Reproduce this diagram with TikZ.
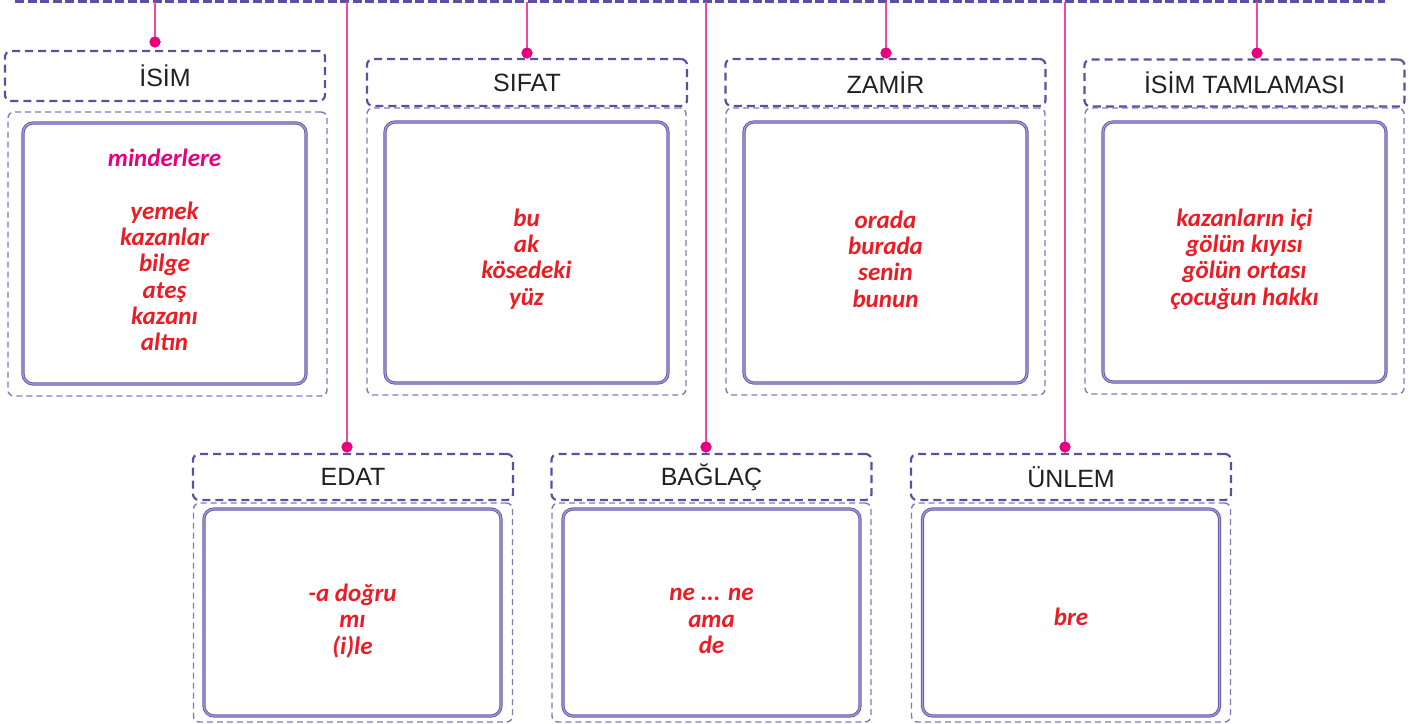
\documentclass[tikz,border=0pt]{standalone}
\usepackage{fontspec}
\setmainfont{Liberation Sans}
\newfontfamily\wordfont{Carlito}
\usepackage{tikz}
\usetikzlibrary{positioning}
\definecolor{headline}{HTML}{5C4F9F}
\definecolor{bodyline}{HTML}{8376BD}
\definecolor{listline}{HTML}{6559A9}
\definecolor{listfill}{HTML}{A99FD6}
\definecolor{headtext}{HTML}{231F20}
\definecolor{stempink}{HTML}{EE4A9F}
\definecolor{dotpink}{HTML}{E6007E}
\definecolor{wordred}{HTML}{ED1C24}
\definecolor{wordmagenta}{HTML}{E5007E}

\begin{document}
\begin{tikzpicture}[
    x=1pt, y=-1pt,
    topline/.style={draw=headline, line width=3pt, dash pattern=on 9pt off 3.5pt},
    headbox/.style={draw=headline, line width=2.2pt, dash pattern=on 8pt off 5pt,
        rounded corners=6pt, minimum width=320pt, minimum height=47pt,
        text=headtext, font=\fontsize{25}{30}\selectfont},
    bodybox/.style={draw=bodyline, line width=1.4pt, dash pattern=on 6pt off 4pt,
        rounded corners=6pt, minimum width=319pt},
    listbox/.style={draw=listline, line width=1pt, double=listfill, double distance=1.2pt,
        rounded corners=10pt},
    words/.style={text=wordred, align=center,
        font=\wordfont\bfseries\itshape\fontsize{25}{26.3}\selectfont},
    stem/.style={draw=stempink, line width=1.8pt},
    dot/.style={circle, fill=dotpink, inner sep=0pt, minimum size=11pt}
]
    \useasboundingbox (0,0) rectangle (1413,723);

    % === TOP LINE ===
    \coordinate (topL) at (15,1.5);
    \coordinate (topR) at (1385,1.5);
    \draw[topline] (topL) -- (topR);

    % === TOP ROW ===
    \node[headbox, minimum height=50pt] (isim) at (165,76) {İSİM};
    \node[bodybox, minimum height=284pt] (isimbody) at (167.5,254) {};
    \node[listbox, minimum width=283pt, minimum height=261pt] (isimlist) at (164.5,253.5) {};
    \node[words] (isimwords) at (164.5,250) {%
        \textcolor{wordmagenta}{minderlere}\\[26.3pt]
        yemek\\ kazanlar\\ bilge\\ ateş\\ kazanı\\ altın};

    \node[headbox] (sifat) at (527,82.5) {SIFAT};
    \node[bodybox, minimum height=287pt] (sifatbody) at (526.5,251.5) {};
    \node[listbox, minimum width=283pt, minimum height=261pt] (sifatlist) at (526.5,252.5) {};
    \node[words] (sifatwords) at (526.5,259) {bu\\ ak\\ kösedeki\\ yüz};

    \node[headbox] (zamir) at (885.5,82.5) {ZAMİR};
    \node[bodybox, minimum height=287pt] (zamirbody) at (885.5,251.5) {};
    \node[listbox, minimum width=283pt, minimum height=261pt] (zamirlist) at (885.5,252.5) {};
    \node[words] (zamirwords) at (885.5,259) {orada\\ burada\\ senin\\ bunun};

    \node[headbox] (tamlama) at (1244.5,83) {İSİM TAMLAMASI};
    \node[bodybox, minimum height=286pt] (tamlamabody) at (1244.5,251) {};
    \node[listbox, minimum width=283pt, minimum height=260pt] (tamlamalist) at (1244.5,252) {};
    \node[words] (tamlamawords) at (1244.5,259) {kazanların içi\\ gölün kıyısı\\ gölün ortası\\ çocuğun hakkı};

    % === BOTTOM ROW ===
    \node[headbox, minimum height=46pt] (edat) at (353,477) {EDAT};
    \node[bodybox, minimum height=219pt] (edatbody) at (353,612.5) {};
    \node[listbox, minimum width=297pt, minimum height=207pt] (edatlist) at (352.5,612.5) {};
    \node[words] (edatwords) at (352.5,621) {-a doğru\\ mı\\ (i)le};

    \node[headbox, minimum height=46pt] (baglac) at (711.5,477) {BAĞLAÇ};
    \node[bodybox, minimum height=219pt] (baglacbody) at (711.5,612.5) {};
    \node[listbox, minimum width=297pt, minimum height=207pt] (baglaclist) at (711.5,612.5) {};
    \node[words] (baglacwords) at (711.5,621) {ne ... ne\\ ama\\ de};

    \node[headbox, minimum height=46pt] (unlem) at (1071,477) {ÜNLEM};
    \node[bodybox, minimum height=219pt] (unlembody) at (1071,612.5) {};
    \node[listbox, minimum width=297pt, minimum height=207pt] (unlemlist) at (1071,612.5) {};
    \node[words] (unlemwords) at (1071,617) {bre};

    % === STEMS ===
    \node[dot] (isimdot) at (155,42) {};
    \node[dot] (sifatdot) at (527,53) {};
    \node[dot] (zamirdot) at (886,53) {};
    \node[dot] (tamlamadot) at (1257,53) {};
    \node[dot] (edatdot) at (347,447) {};
    \node[dot] (baglacdot) at (706,447) {};
    \node[dot] (unlemdot) at (1065,447) {};

    \foreach \d in {isimdot,sifatdot,zamirdot,tamlamadot,edatdot,baglacdot,unlemdot} {
        \draw[stem] (\d |- topL) -- (\d.center);
        \node[dot] at (\d) {};
    }
\end{tikzpicture}
\end{document}
